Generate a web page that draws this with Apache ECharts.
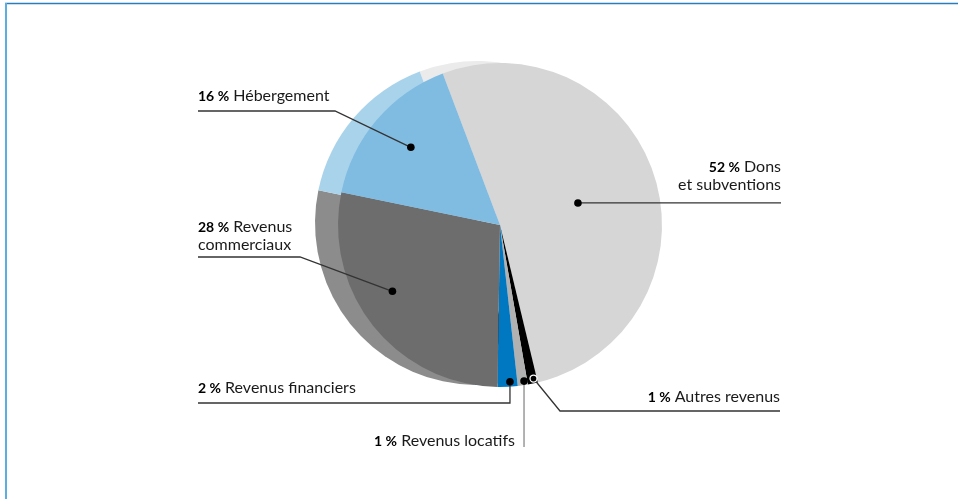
<!DOCTYPE html>
<html>
<head>
<meta charset="utf-8">
<script src="https://cdn.jsdelivr.net/npm/echarts@6/dist/echarts.min.js"></script>
<style>
  html, body { margin: 0; padding: 0; background: #fff; }
  #chart { width: 958px; height: 499px; }
</style>
</head>
<body>
<div id="chart"></div>
<script>
// data, clockwise from the top-left edge of "Dons"
const categories = ['Dons et subventions', 'Autres revenus', 'Revenus locatifs', 'Revenus financiers', 'Revenus commerciaux', 'Hébergement'];
const values = [52, 1, 1, 2, 28, 16];
const labelNames = ['Dons\net subventions', 'Autres revenus', 'Revenus locatifs', 'Revenus financiers', 'Revenus\ncommerciaux', 'Hébergement'];
const frontColors = ['#d6d6d6', '#000000', '#b1b1b1', '#0077c1', '#6d6d6d', '#80bce1'];
const backColors = ['#ebebeb', '#000000', '#b1b1b1', '#0077c1', '#8c8c8c', '#a9d3eb'];

// layout
const CX = 500, CY = 225, R = 162;
const BACK_CENTER = [477, 223];
const START = -20.7; // degrees clockwise from 12 o'clock
const FONT = 'Lato, "Noto Sans", sans-serif';
const LINE = '#333';

// where the dot sits in its slice (t: share of the slice angle, r: share of radius)
// text position = right/left edge and bottom of the block
const layout = [
  { t: 0.507, r: 0.5, text: [781, 194], align: 'right', path: d => [d, [781, d[1]]] },
  { t: 0.33, r: 0.97, hollow: true, text: [780, 406], align: 'right', path: d => [[780, 411], [560, 411], d] },
  { t: 0.32, r: 0.975, text: [515, 450], align: 'right', color: '#8a8a8a', path: d => [d, [d[0], 447]] },
  { t: 0.37, r: 0.97, text: [198, 397], align: 'left', path: d => [[198, 403], [d[0], 403], d] },
  { t: 0.57, r: 0.78, text: [198, 254], align: 'left', path: d => [[198, 257], [300, 257], d] },
  { t: 0.51, r: 0.73, text: [198, 105], align: 'left', path: d => [[198, 111], [335, 111], d] }
];

function polar(deg, r) {
  const a = deg * Math.PI / 180;
  return [CX + r * Math.sin(a), CY - r * Math.cos(a)];
}

const total = values.reduce((s, v) => s + v, 0);
let acc = START;
const dots = values.map((v, i) => {
  const span = v / total * 360;
  const p = polar(acc + span * layout[i].t, R * layout[i].r);
  acc += span;
  return p;
});

const graphics = [
  // frame
  { type: 'line', shape: { x1: 5, y1: 3.5, x2: 958, y2: 3.5 }, style: { stroke: '#2a7cba', lineWidth: 1.5 } },
  { type: 'line', shape: { x1: 6, y1: 3, x2: 6, y2: 499 }, style: { stroke: '#5aaee1', lineWidth: 2 } }
];

values.forEach((v, i) => {
  const L = layout[i];
  const d = dots[i];
  const lines = labelNames[i].split('\n');
  const text = '{b|' + v + ' %} ' + lines[0] + (lines[1] ? '\n{n|' + lines[1] + '}' : '');
  graphics.push({
    type: 'polyline',
    shape: { points: L.path(d) },
    style: { stroke: L.color || LINE, lineWidth: 1.3, fill: null },
    z: 10
  });
  graphics.push({
    type: 'circle',
    shape: { cx: d[0], cy: d[1], r: L.hollow ? 3.5 : 3.8 },
    style: L.hollow ? { fill: '#000', stroke: '#fff', lineWidth: 1.3 } : { fill: '#000' },
    z: 11
  });
  graphics.push({
    type: 'text',
    x: L.text[0],
    y: L.text[1],
    style: {
      text: text,
      align: L.align,
      verticalAlign: 'bottom',
      font: '16px ' + FONT,
      fill: '#1a1a1a',
      lineHeight: 18,
      rich: {
        b: { fontWeight: 'bold', fontSize: 14, fontFamily: FONT, fill: '#000', lineHeight: 18 },
        n: { fontSize: 16, fontFamily: FONT, fill: '#1a1a1a', lineHeight: 18 }
      }
    },
    z: 12
  });
});

const pieData = (colors) => categories.map((name, i) => ({
  name: name,
  value: values[i],
  itemStyle: { color: colors[i] }
}));

const chart = echarts.init(document.getElementById('chart'));
chart.setOption({
  animation: false,
  backgroundColor: '#fff',
  series: [
    {
      type: 'pie',
      silent: true,
      center: BACK_CENTER,
      radius: R,
      startAngle: 90 - START,
      clockwise: true,
      label: { show: false },
      labelLine: { show: false },
      data: pieData(backColors),
      z: 1
    },
    {
      type: 'pie',
      silent: true,
      center: [CX, CY],
      radius: R,
      startAngle: 90 - START,
      clockwise: true,
      label: { show: false },
      labelLine: { show: false },
      data: pieData(frontColors),
      z: 2
    }
  ],
  graphic: graphics
});
</script>
</body>
</html>
